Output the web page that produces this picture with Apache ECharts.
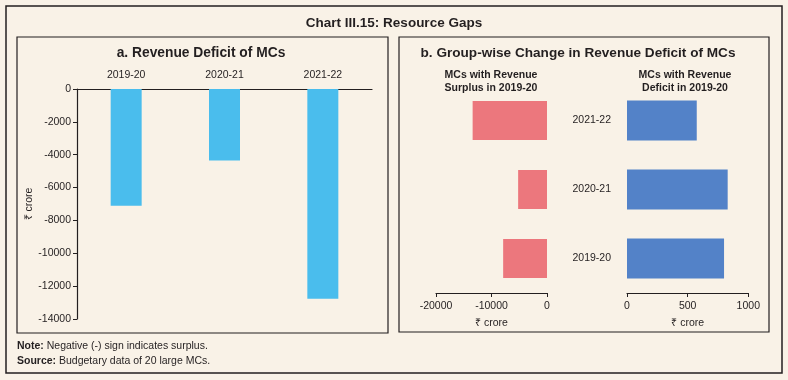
<!DOCTYPE html>
<html><head><meta charset="utf-8">
<script src="https://cdn.jsdelivr.net/npm/echarts@6/dist/echarts.min.js"></script>
<style>html,body{margin:0;padding:0;background:#F9F2E7;}#c{width:788px;height:380px;}</style>
</head><body><div id="c"></div>
<script>
const years = ['2019-20', '2020-21', '2021-22'];
const revenueDeficit = [-7100, -4350, -12770];
const surplusGroupChange = [-7900, -5200, -13400];
const deficitGroupChange = [800, 830, 575];
const leftTicks = [0, -2000, -4000, -6000, -8000, -10000, -12000, -14000];

const F = '"Liberation Sans", Arial, sans-serif';
const C = '#231f20';
const chart = echarts.init(document.getElementById('c'), null, {renderer: 'canvas'});
const axisTxt = {color: C, fontFamily: F, fontSize: 10.5};
const plain = v => String(v);
function ttl(text, x, y, size, lh) {
  return {type: 'text', x: x, y: y, silent: true,
    style: {text: text, fill: C, fontFamily: F, fontSize: size, fontWeight: 'bold',
            align: 'center', verticalAlign: 'top', lineHeight: lh || size + 2}};
}
chart.setOption({
  backgroundColor: '#F9F2E7',
  animation: false,
  graphic: [
    {type: 'rect', shape: {x: 6, y: 6, width: 776, height: 367}, style: {fill: null, stroke: C, lineWidth: 1.5}, silent: true},
    {type: 'rect', shape: {x: 17, y: 37, width: 371, height: 296}, style: {fill: null, stroke: C, lineWidth: 1.2}, silent: true},
    {type: 'rect', shape: {x: 399, y: 37, width: 370, height: 295}, style: {fill: null, stroke: C, lineWidth: 1.2}, silent: true},
    ttl('Chart III.15: Resource Gaps', 394, 16, 13.5),
    ttl('a. Revenue Deficit of MCs', 201, 45, 13.8),
    ttl('b. Group-wise Change in Revenue Deficit of MCs', 578, 45, 13.6),
    ttl('MCs with Revenue\nSurplus in 2019-20', 491, 69, 10.5, 13),
    ttl('MCs with Revenue\nDeficit in 2019-20', 685, 69, 10.5, 13),
    {type: 'text', x: 17, y: 341, silent: true, style: {text: '{b|Note:} Negative (-) sign indicates surplus.', fill: C, fontFamily: F, fontSize: 10.5,
      rich: {b: {fontWeight: 'bold', fontSize: 10.5, fontFamily: F, fill: C}}}},
    {type: 'text', x: 17, y: 356, silent: true, style: {text: '{b|Source:} Budgetary data of 20 large MCs.', fill: C, fontFamily: F, fontSize: 10.5,
      rich: {b: {fontWeight: 'bold', fontSize: 10.5, fontFamily: F, fill: C}}}}
  ],
  grid: [
    {left: 77, top: 89, width: 295, height: 230, containLabel: false},
    {left: 436, top: 86, width: 111, height: 207, containLabel: false},
    {left: 627, top: 86, width: 121.3, height: 207, containLabel: false}
  ],
  xAxis: [
    {gridIndex: 0, type: 'category', position: 'top', data: years,
     axisLine: {lineStyle: {color: C, width: 1.2}}, axisTick: {show: false},
     axisLabel: Object.assign({margin: 8}, axisTxt)},
    {gridIndex: 1, type: 'value', min: -20000, max: 0, interval: 10000,
     splitLine: {show: false}, axisLine: {show: true, lineStyle: {color: C, width: 1.2}},
     axisTick: {show: true, length: 4, lineStyle: {color: C}},
     axisLabel: Object.assign({margin: 8, formatter: plain}, axisTxt),
     name: '₹ crore', nameLocation: 'middle', nameGap: 25, nameTextStyle: axisTxt},
    {gridIndex: 2, type: 'value', min: 0, max: 1000, interval: 500,
     splitLine: {show: false}, axisLine: {show: true, lineStyle: {color: C, width: 1.2}},
     axisTick: {show: true, length: 4, lineStyle: {color: C}},
     axisLabel: Object.assign({margin: 8, formatter: plain}, axisTxt),
     name: '₹ crore', nameLocation: 'middle', nameGap: 25, nameTextStyle: axisTxt}
  ],
  yAxis: [
    {gridIndex: 0, type: 'value', min: -14000, max: 0, interval: 2000,
     splitLine: {show: false}, axisLine: {show: true, lineStyle: {color: C, width: 1.2}},
     axisTick: {show: true, length: 4, lineStyle: {color: C}},
     axisLabel: Object.assign({margin: 6, formatter: v => leftTicks.includes(v) ? String(v) : ''}, axisTxt),
     name: '₹ crore', nameLocation: 'middle', nameGap: 32, nameRotate: 90, nameTextStyle: axisTxt},
    {gridIndex: 1, type: 'category', data: years, axisLine: {show: false}, axisTick: {show: false}, axisLabel: {show: false}},
    {gridIndex: 2, type: 'category', data: years, axisLine: {show: false}, axisTick: {show: false},
     axisLabel: Object.assign({margin: 16}, axisTxt)}
  ],
  series: [
    {type: 'bar', xAxisIndex: 0, yAxisIndex: 0, data: revenueDeficit, barWidth: 31,
     itemStyle: {color: '#4ABDED'}},
    {type: 'bar', xAxisIndex: 1, yAxisIndex: 1, data: surplusGroupChange, barWidth: 39,
     itemStyle: {color: '#EC777D'}},
    {type: 'bar', xAxisIndex: 2, yAxisIndex: 2, data: deficitGroupChange, barWidth: 40,
     itemStyle: {color: '#5382C8'}}
  ]
});
</script></body></html>
